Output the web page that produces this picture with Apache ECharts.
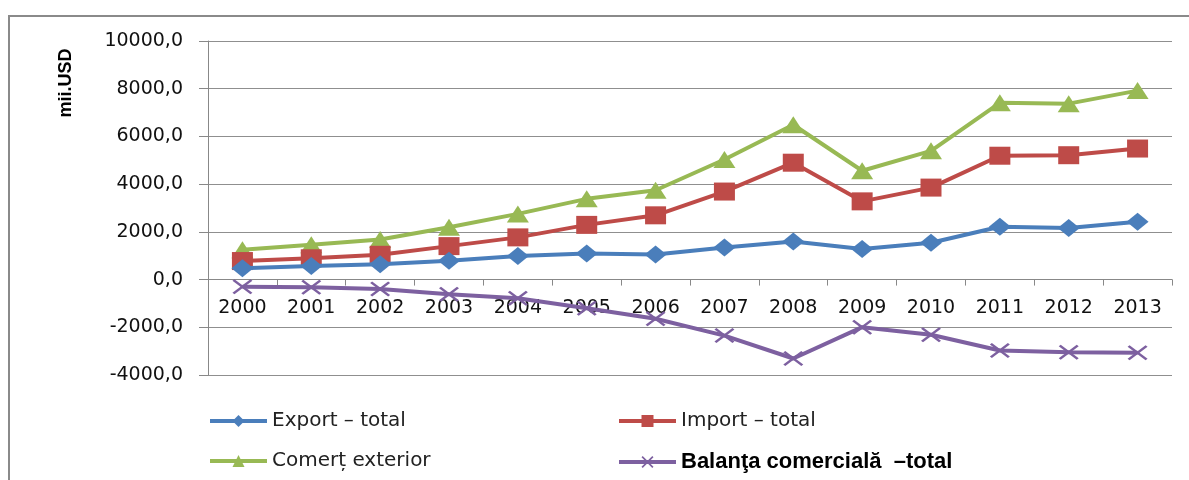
<!DOCTYPE html>
<html>
<head>
<meta charset="utf-8">
<script src="https://cdn.jsdelivr.net/npm/echarts@6/dist/echarts.min.js"></script>
<style>
html,body{margin:0;padding:0;background:#fff;}
#chart{width:1189px;height:480px;}
</style>
</head>
<body>
<div id="chart"></div>
<script>
const years = ['2000','2001','2002','2003','2004','2005','2006','2007','2008','2009','2010','2011','2012','2013'];
const exportTotal = [471.5, 565.5, 643.8, 789.9, 985.2, 1091.3, 1051.6, 1341.7, 1591.1, 1283.0, 1541.5, 2216.8, 2161.9, 2428.3];
const importTotal = [776.4, 892.2, 1038.0, 1402.3, 1768.5, 2292.3, 2693.2, 3689.5, 4898.8, 3278.3, 3855.3, 5191.3, 5212.9, 5492.4];
const comertExterior = [1247.9, 1457.7, 1681.8, 2192.2, 2753.7, 3383.6, 3744.8, 5031.2, 6489.9, 4561.3, 5396.8, 7408.1, 7374.8, 7920.7];
const balanta = [-304.9, -326.7, -394.2, -612.4, -783.3, -1201.0, -1641.6, -2347.8, -3307.7, -1995.3, -2313.8, -2974.5, -3051.0, -3064.1];
const seriesNames = ['Export – total', 'Import – total', 'Comerț exterior', 'Balanţa comercială  –total'];
const yTicks = {min: -4000, max: 10000, step: 2000};

const crossPath = 'path://M0,1 L1,0 L5,4 L9,0 L10,1 L6,5 L10,9 L9,10 L5,6 L1,10 L0,9 L4,5 Z';
const chart = echarts.init(document.getElementById('chart'), null, {renderer: 'canvas'});
const legendText = {fontFamily: 'DejaVu Sans', fontSize: 20, color: '#222'};
const legendBase = {itemWidth: 57, itemHeight: 15, itemGap: 0, selectedMode: false, lineStyle: {width: 4}};

function mkSeries(name, data, color, symbol, size, z) {
  return {
    name: name, type: 'line', data: data, symbol: symbol, symbolSize: size,
    showAllSymbol: true, z: z,
    lineStyle: {color: color, width: 4},
    itemStyle: {color: color},
    emphasis: {disabled: true},
    animation: false
  };
}

const gridTop = 41, gridBottomPx = 375;
// lift the category axis onto the zero line of the value axis
const zeroOffset = (gridBottomPx - gridTop) * (0 - yTicks.min) / (yTicks.max - yTicks.min);

chart.setOption({
  animation: false,
  backgroundColor: '#fff',
  grid: {left: 208, right: 17, top: gridTop, bottom: 480 - gridBottomPx},
  graphic: [
    {type: 'rect', shape: {x: 9, y: 16, width: 1300, height: 600},
     style: {fill: 'none', stroke: '#8a8a8a', lineWidth: 2}, silent: true},
    {type: 'text', x: 66, y: 83, rotation: Math.PI / 2,
     style: {text: 'mii.USD', align: 'center', verticalAlign: 'middle',
             font: 'bold 18px "Liberation Sans", Arial', fill: '#000'}}
  ],
  legend: [
    Object.assign({data: [seriesNames[0]], left: 203, top: 406, textStyle: legendText}, legendBase),
    Object.assign({data: [seriesNames[1]], left: 612, top: 406, textStyle: legendText}, legendBase),
    Object.assign({data: [seriesNames[2]], left: 203, top: 446, textStyle: legendText}, legendBase),
    Object.assign({data: [seriesNames[3]], left: 612, top: 446,
      textStyle: {fontFamily: '"Liberation Sans", Arial', fontWeight: 'bold', fontSize: 22, color: '#000'}}, legendBase)
  ],
  xAxis: {
    type: 'category', data: years, boundaryGap: true, position: 'bottom',
    offset: -zeroOffset,
    axisLine: {onZero: false, lineStyle: {color: '#888', width: 1}},
    axisTick: {show: true, length: 6, lineStyle: {color: '#888', width: 1}},
    axisLabel: {margin: 19, fontFamily: 'DejaVu Sans', fontSize: 19, color: '#111'},
    splitLine: {show: false}
  },
  yAxis: {
    type: 'value', min: yTicks.min, max: yTicks.max, interval: yTicks.step,
    axisLine: {show: true, onZero: false, lineStyle: {color: '#888', width: 1}},
    axisTick: {show: true, length: 9, lineStyle: {color: '#888'}},
    axisLabel: {margin: 25, fontFamily: 'DejaVu Sans', fontSize: 19, color: '#111',
      formatter: v => v.toFixed(1).replace('.', ',')},
    splitLine: {show: true, lineStyle: {color: '#8f8f8f', width: 1}}
  },
  series: [
    mkSeries(seriesNames[0], exportTotal, '#4A7EBB', 'diamond', [22, 18], 4),
    mkSeries(seriesNames[1], importTotal, '#BE4B48', 'rect', [21, 18], 3),
    mkSeries(seriesNames[2], comertExterior, '#98B954', 'triangle', [22, 17], 2),
    mkSeries(seriesNames[3], balanta, '#7D60A0', crossPath, [20, 15], 5)
  ]
});
</script>
</body>
</html>
